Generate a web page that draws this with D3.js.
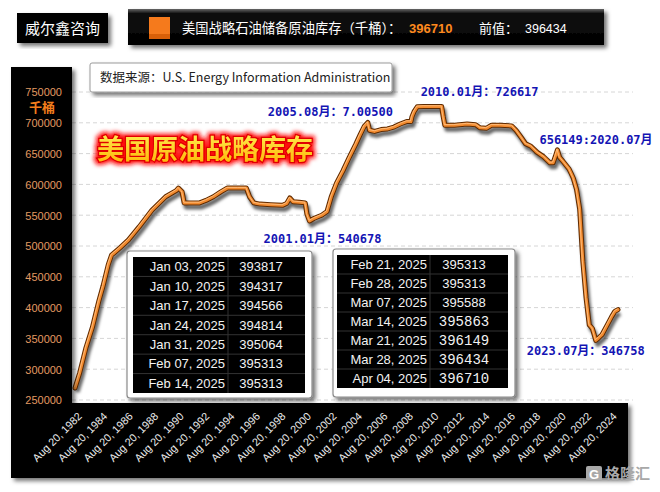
<!DOCTYPE html>
<html><head><meta charset="utf-8">
<script src="https://cdn.jsdelivr.net/npm/d3@7"></script>
<style>body{margin:0;background:#fff;} svg{display:block;}</style>
</head><body><svg id="c" width="660" height="492"></svg>
<script>
// ---------------- DATA ----------------
const dates = ["1982-08-20","1983-01-01","1983-07-01","1984-01-01","1984-07-01","1984-11-01","1985-04-01","1985-07-01","1986-03-01","1986-11-01","1987-09-01","1988-09-01","1989-10-01","1990-08-01","1990-10-01","1991-01-15","1991-03-15","1992-06-01","1992-12-01","1993-07-01","1994-02-01","1994-08-01","1995-06-01","1996-02-01","1996-05-01","1996-09-01","1997-03-01","1998-01-01","1998-12-01","1999-04-01","1999-07-01","1999-10-01","2000-04-01","2000-09-15","2000-11-01","2001-01-15","2001-06-01","2002-01-01","2002-06-01","2002-10-01","2003-03-01","2003-09-01","2004-03-01","2004-09-01","2005-01-01","2005-05-01","2005-08-15","2005-10-01","2006-03-01","2006-09-01","2007-03-01","2007-09-01","2008-03-01","2008-09-01","2009-01-01","2009-02-01","2009-04-01","2009-07-01","2010-01-01","2011-03-01","2011-06-01","2011-07-15","2011-09-01","2012-06-01","2013-06-01","2014-02-01","2014-06-01","2014-12-01","2015-05-01","2016-01-01","2016-12-01","2017-04-01","2017-09-01","2018-01-01","2018-06-01","2018-12-01","2019-06-01","2019-12-01","2020-03-01","2020-05-01","2020-07-03","2020-09-01","2020-12-01","2021-06-01","2021-10-01","2022-01-01","2022-04-01","2022-07-01","2022-10-01","2023-01-01","2023-04-01","2023-07-07","2023-10-01","2024-01-01","2024-06-01","2024-10-01","2025-01-03","2025-04-04"];
const values = [269500,294000,335000,368000,410000,435000,470000,485000,497000,510000,531000,558000,580000,590000,594000,588000,570000,570000,574000,580000,588000,594000,594000,594000,580000,570000,568000,567000,566000,569000,578000,572000,571000,570000,552000,540678,545000,550000,556000,580000,602000,622000,644000,665000,680000,694000,700500,688000,686000,689000,690000,693000,698000,702000,702000,710000,718000,726000,726617,726500,726500,710000,696000,696000,698000,697000,692000,691000,696000,696000,695000,688000,676000,666000,662000,652000,645000,635000,635000,645000,656149,644000,638000,625000,610000,592000,560000,475000,416000,372000,366000,346758,351000,356000,372000,385000,393817,396710];

const yTicks = [250000,300000,350000,400000,450000,500000,550000,600000,650000,700000,750000];
const xTickYears = [1982,1984,1986,1988,1990,1992,1994,1996,1998,2000,2002,2004,2006,2008,2010,2012,2014,2016,2018,2020,2022,2024];

const table1Dates = ["Jan 03, 2025","Jan 10, 2025","Jan 17, 2025","Jan 24, 2025","Jan 31, 2025","Feb 07, 2025","Feb 14, 2025"];
const table1Values = ["393817","394317","394566","394814","395064","395313","395313"];
const table2Dates = ["Feb 21, 2025","Feb 28, 2025","Mar 07, 2025","Mar 14, 2025","Mar 21, 2025","Mar 28, 2025","Apr 04, 2025"];
const table2Values = ["395313","395313","395588","395863","396149","396434","396710"];

const annDates = ["2010-01-01","2005-08-15","2001-01-15","2020-07-03","2023-07-07"];
const annValues = [726617,700500,540678,656149,346758];
const annTexts = ["2010.01月：726617","2005.08月：7.00500","2001.01月：540678","656149:2020.07月","2023.07月：346758"];

const headerTitle = "美国战略石油储备原油库存（千桶）：";
const headerLatest = "396710";
const headerPrevLabel = "前值：";
const headerPrev = "396434";
const brand = "威尔鑫咨询";
const sourceText = "数据来源：U.S. Energy Information Administration";
const chartTitle = "美国原油战略库存";
const unitLabel = "千桶";

// ---------------- DRAW ----------------
const parse = d3.timeParse("%Y-%m-%d");
const data = dates.map((d,i)=>({date:parse(d), value:values[i]}));
const svg = d3.select("#c");
const CJK = "'Noto Sans CJK SC','Liberation Sans',sans-serif";
const LAT = "'Liberation Sans','Noto Sans CJK SC',sans-serif";

const defs = svg.append("defs");
const ds = defs.append("filter").attr("id","shadow").attr("x","-10%").attr("y","-10%").attr("width","130%").attr("height","130%");
ds.append("feDropShadow").attr("dx",3).attr("dy",3).attr("stdDeviation",2).attr("flood-color","#000").attr("flood-opacity",0.55);
const blur = defs.append("filter").attr("id","blur").attr("x","-5%").attr("y","-5%").attr("width","110%").attr("height","110%");
blur.append("feGaussianBlur").attr("stdDeviation",1.6);
const glow = defs.append("filter").attr("id","glow").attr("x","-10%").attr("y","-30%").attr("width","120%").attr("height","160%");
glow.append("feMorphology").attr("in","SourceAlpha").attr("operator","dilate").attr("radius",2).attr("result","d");
glow.append("feGaussianBlur").attr("in","d").attr("stdDeviation",2).attr("result","b");
glow.append("feFlood").attr("flood-color","#ff1010").attr("result","f");
glow.append("feComposite").attr("in","f").attr("in2","b").attr("operator","in").attr("result","g");
const gm = glow.append("feMerge");
gm.append("feMergeNode").attr("in","g");
gm.append("feMergeNode").attr("in","SourceGraphic");
const tg = defs.append("linearGradient").attr("id","tgrad").attr("x1",0).attr("y1",0).attr("x2",0).attr("y2",1);
tg.append("stop").attr("offset","0%").attr("stop-color","#fff65a");
tg.append("stop").attr("offset","100%").attr("stop-color","#ffb000");
const hg = defs.append("linearGradient").attr("id","hgrad").attr("x1",0).attr("y1",0).attr("x2",0).attr("y2",1);
hg.append("stop").attr("offset","0%").attr("stop-color","#666");
hg.append("stop").attr("offset","12%").attr("stop-color","#111");
hg.append("stop").attr("offset","100%").attr("stop-color","#000");

// scales
const x = d3.scaleTime().domain([parse("1982-08-20"), parse("2025-04-04")]).range([75, 618]);
const y = d3.scaleLinear().domain([250000, 750000]).range([400, 92]);

// gridlines
svg.append("g").selectAll("line").data(yTicks).join("line")
  .attr("x1",72).attr("x2",633).attr("y1",d=>y(d)).attr("y2",d=>y(d))
  .attr("stroke","#d6d6d6").attr("stroke-width",1).attr("stroke-dasharray","4,3");

// header boxes
svg.append("rect").attr("x",17).attr("y",13).attr("width",91).attr("height",30).attr("fill","#000").attr("filter","url(#shadow)");
svg.append("text").attr("x",62.5).attr("y",34).attr("text-anchor","middle").attr("fill","#fff")
  .attr("font-family",CJK).attr("font-size",15).text(brand);
svg.append("rect").attr("x",128).attr("y",9).attr("width",476).attr("height",36).attr("fill","url(#hgrad)").attr("filter","url(#shadow)");
svg.append("rect").attr("x",149).attr("y",17).attr("width",21).attr("height",22).attr("fill","#f57a1c");
svg.append("rect").attr("x",149).attr("y",34).attr("width",21).attr("height",5).attr("fill","#d96008");
svg.append("text").attr("x",182).attr("y",33).attr("fill","#fff").attr("font-family",CJK).attr("font-size",13.3).text(headerTitle);
svg.append("text").attr("x",409).attr("y",33).attr("fill","#ff8a1e").attr("font-family",LAT).attr("font-weight","bold").attr("font-size",13).text(headerLatest);
svg.append("text").attr("x",479).attr("y",33).attr("fill","#fff").attr("font-family",CJK).attr("font-size",13).text(headerPrevLabel);
svg.append("text").attr("x",525).attr("y",33).attr("fill","#fff").attr("font-family",LAT).attr("font-size",12.5).text(headerPrev);

// source box
svg.append("rect").attr("x",90).attr("y",63).attr("width",302).attr("height",29).attr("rx",2)
  .attr("fill","#fff").attr("stroke","#9a9a9a").attr("stroke-width",1).attr("filter","url(#shadow)");
svg.append("text").attr("x",100).attr("y",82).attr("fill","#222").attr("font-family",CJK).attr("font-size",12.5).text(sourceText);

// chart title
svg.append("text").attr("x",97).attr("y",159).attr("font-family",CJK).attr("font-weight","bold").attr("font-size",27)
  .attr("fill","url(#tgrad)").attr("stroke","#e00000").attr("stroke-width",2.5).attr("paint-order","stroke")
  .attr("filter","url(#glow)").text(chartTitle);

// tables
function drawTable(frame, inner, divX, dateEnd, valMid, dts, vals, monoFrom){
  svg.append("rect").attr("x",frame[0]).attr("y",frame[1]).attr("width",frame[2]).attr("height",frame[3]).attr("rx",3)
    .attr("fill","#fff").attr("stroke","#8a8a8a").attr("stroke-width",1.2).attr("filter","url(#shadow)");
  svg.append("rect").attr("x",inner[0]).attr("y",inner[1]).attr("width",inner[2]).attr("height",inner[3]).attr("fill","#000");
  const rh = inner[3]/dts.length;
  const g = svg.append("g");
  g.selectAll("line.r").data(d3.range(1,dts.length)).join("line").attr("class","r")
    .attr("x1",inner[0]).attr("x2",inner[0]+inner[2]).attr("y1",i=>inner[1]+i*rh).attr("y2",i=>inner[1]+i*rh)
    .attr("stroke","#333").attr("stroke-width",1);
  g.append("line").attr("x1",divX).attr("x2",divX).attr("y1",inner[1]).attr("y2",inner[1]+inner[3]).attr("stroke","#333");
  g.selectAll("text.d").data(dts).join("text").attr("class","d")
    .attr("x",dateEnd).attr("y",(d,i)=>inner[1]+(i+0.5)*rh+4.6).attr("text-anchor","end")
    .attr("fill","#f2f2f2").attr("font-family",LAT).attr("font-size",13).text(d=>d);
  g.selectAll("text.v").data(vals).join("text").attr("class","v")
    .attr("x",valMid).attr("y",(d,i)=>inner[1]+(i+0.5)*rh+4.6).attr("text-anchor","middle")
    .attr("fill","#f2f2f2").attr("font-family",(d,i)=>i>=monoFrom?"'Liberation Mono',monospace":LAT)
    .attr("font-size",(d,i)=>i>=monoFrom?14:13).text(d=>d);
}
drawTable([127,251,185,147],[133,257,172,136],228,225,261,table1Dates,table1Values,99);
drawTable([333,249,182,148],[337,255,171,133],430,427,464,table2Dates,table2Values,3);

// line
const line = d3.line().x(d=>x(d.date)).y(d=>y(d.value)).curve(d3.curveLinear);
svg.append("path").datum(data).attr("d",line).attr("fill","none").attr("stroke","#000").attr("stroke-opacity",0.6)
  .attr("stroke-width",5).attr("stroke-linejoin","round").attr("transform","translate(2,4)").attr("filter","url(#blur)");
svg.append("path").datum(data).attr("d",line).attr("fill","none").attr("stroke","#5e2a00")
  .attr("stroke-width",5).attr("stroke-linejoin","round").attr("stroke-linecap","round");
svg.append("path").datum(data).attr("d",line).attr("fill","none").attr("stroke","#f28a2e")
  .attr("stroke-width",3).attr("stroke-linejoin","round").attr("stroke-linecap","round");
svg.append("path").datum(data).attr("d",line).attr("fill","none").attr("stroke","#ffc58a")
  .attr("stroke-width",0.8).attr("stroke-linejoin","round").attr("transform","translate(-0.5,-0.7)");

// annotations
const annDx = [-3,-100,-46,-18,-69];
const annDy = [-10,-6,22,-6,15];
svg.append("g").selectAll("text").data(annTexts).join("text")
  .attr("x",(d,i)=>x(parse(annDates[i]))+annDx[i]).attr("y",(d,i)=>y(annValues[i])+annDy[i])
  .attr("fill","#1414b4").attr("font-family","'DejaVu Sans Mono','Noto Sans CJK SC',monospace")
  .attr("font-weight","bold").attr("font-size",12).text(d=>d);

// axis panels
svg.append("path").attr("d","M11,67H72V403H628V478H11Z").attr("fill","#000").attr("filter","url(#shadow)");

// y axis
const yAxis = svg.append("g").attr("transform","translate(62,0)")
  .call(d3.axisLeft(y).tickValues(yTicks).tickSize(0).tickPadding(0).tickFormat(d3.format("d")));
yAxis.select(".domain").remove();
yAxis.selectAll("text").attr("fill","#e39a62").attr("font-family",LAT).attr("font-size",11).attr("dy","0.35em");
svg.append("text").attr("x",42).attr("y",112).attr("text-anchor","middle").attr("fill","#f27d1c")
  .attr("font-family",CJK).attr("font-weight","bold").attr("font-size",13).text(unitLabel);

// x axis
const xTicks = xTickYears.map(yr=>new Date(yr,7,20));
const xAxis = svg.append("g").attr("transform","translate(0,417)")
  .call(d3.axisBottom(x).tickValues(xTicks).tickSize(0).tickFormat(d3.timeFormat("%b %d, %Y")));
xAxis.select(".domain").remove();
xAxis.selectAll("text").attr("x",0).attr("y",0).attr("dy",0).attr("text-anchor","end")
  .attr("transform","translate(7,0) rotate(-45)").attr("fill","#eeeeee").attr("font-family",LAT).attr("font-size",10.8);

// watermark
svg.append("rect").attr("x",586).attr("y",466).attr("width",16).attr("height",15).attr("rx",2).attr("fill","#a8a8a8");
svg.append("text").attr("x",594).attr("y",478.5).attr("text-anchor","middle").attr("fill","#fff").attr("font-family",LAT).attr("font-weight","bold").attr("font-size",13).text("G");
svg.append("text").attr("x",605).attr("y",479).attr("fill","#a8a8a8").attr("font-family",CJK).attr("font-weight","bold").attr("font-size",15).text("格隆汇");
</script></body></html>
